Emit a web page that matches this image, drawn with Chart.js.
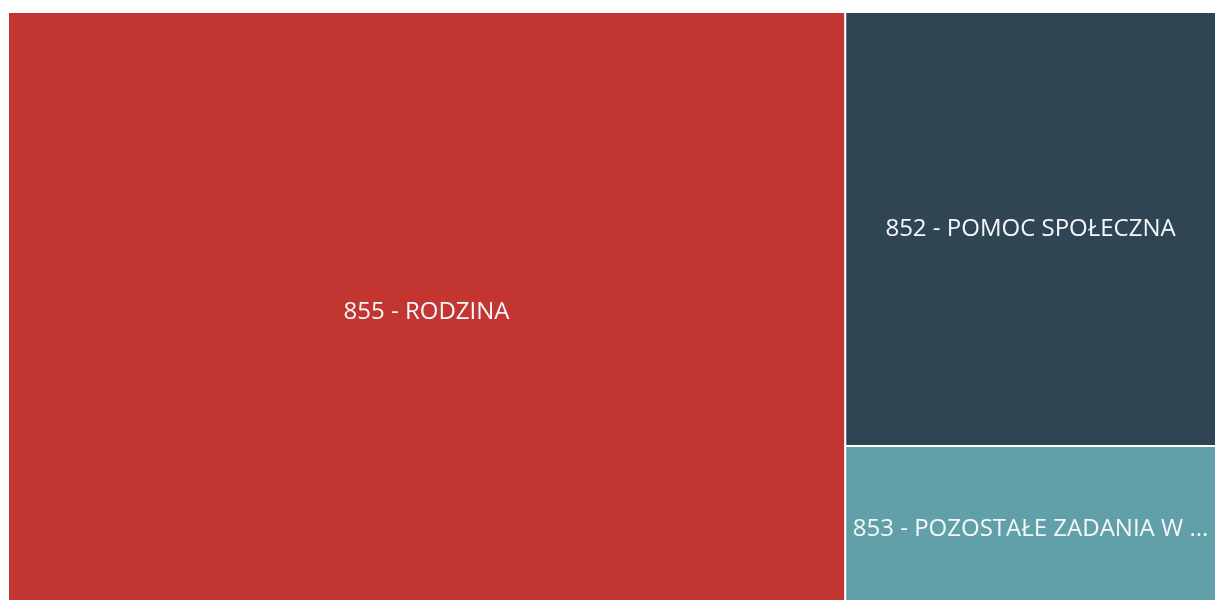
<!DOCTYPE html>
<html>
<head>
<meta charset="utf-8">
<script src="https://cdn.jsdelivr.net/npm/chart.js@4.4.1/dist/chart.umd.min.js"></script>
<style>
  html, body { margin: 0; padding: 0; background: #ffffff; overflow: hidden; }
  #wrap { position: relative; width: 1216px; height: 612px; }
</style>
</head>
<body>
<div id="wrap"><canvas id="c"></canvas></div>
<script>
// ---- data ----
const categories = [
  '855 - RODZINA',
  '852 - POMOC SPOŁECZNA',
  '853 - POZOSTAŁE ZADANIA W ZAKRESIE POLITYKI SPOŁECZNEJ'
];
const values = [69.3, 22.2, 8.5];
const colors = ['#c23531', '#2f4554', '#61a0a8'];

// ---- slice-and-dice layout in data units (x: 0..total, y: 0..1) ----
const total = values.reduce((a, b) => a + b, 0);
const rest = values.slice(1).reduce((a, b) => a + b, 0);
const rects = [];
rects.push({ x0: 0, x1: values[0], y0: 0, y1: 1 });
let acc = 0;
for (let i = 1; i < values.length; i++) {
  const y0 = acc / rest;
  acc += values[i];
  rects.push({ x0: values[0], x1: total, y0: y0, y1: acc / rest });
}

const datasets = rects.map((r, i) => ({
  label: categories[i],
  data: [
    { x: r.x0, y: r.y0 }, { x: r.x1, y: r.y0 },
    { x: r.x1, y: r.y1 }, { x: r.x0, y: r.y1 }, { x: r.x0, y: r.y0 }
  ],
  backgroundColor: colors[i],
  borderColor: '#ffffff',
  borderWidth: 2,
  fill: 'shape',
  pointRadius: 0,
  tension: 0
}));

const labelPlugin = {
  id: 'treeLabels',
  afterDatasetsDraw(chart) {
    const { ctx, scales } = chart;
    ctx.save();
    ctx.font = '24px "Open Sans", sans-serif';
    ctx.fillStyle = '#f4f8fa';
    ctx.textAlign = 'center';
    ctx.textBaseline = 'middle';
    rects.forEach((r, i) => {
      const px0 = scales.x.getPixelForValue(r.x0);
      const px1 = scales.x.getPixelForValue(r.x1);
      const py0 = scales.y.getPixelForValue(r.y0);
      const py1 = scales.y.getPixelForValue(r.y1);
      const maxW = Math.abs(px1 - px0) - 8;
      let txt = categories[i];
      if (ctx.measureText(txt).width > maxW) {
        let t = txt;
        while (t.length && ctx.measureText(t + '...').width > maxW) t = t.slice(0, -1);
        txt = t + '...';
      }
      ctx.fillText(txt, (px0 + px1) / 2, (py0 + py1) / 2);
    });
    ctx.restore();
  }
};

new Chart(document.getElementById('c'), {
  type: 'line',
  data: { datasets },
  options: {
    responsive: true,
    maintainAspectRatio: false,
    animation: false,
    layout: { padding: { top: 12, left: 8, right: 0, bottom: 0 } },
    plugins: { legend: { display: false }, tooltip: { enabled: false } },
    scales: {
      x: { type: 'linear', display: false, min: 0, max: total },
      y: { type: 'linear', display: false, min: 0, max: 1, reverse: true }
    }
  },
  plugins: [labelPlugin]
});
</script>
</body>
</html>
